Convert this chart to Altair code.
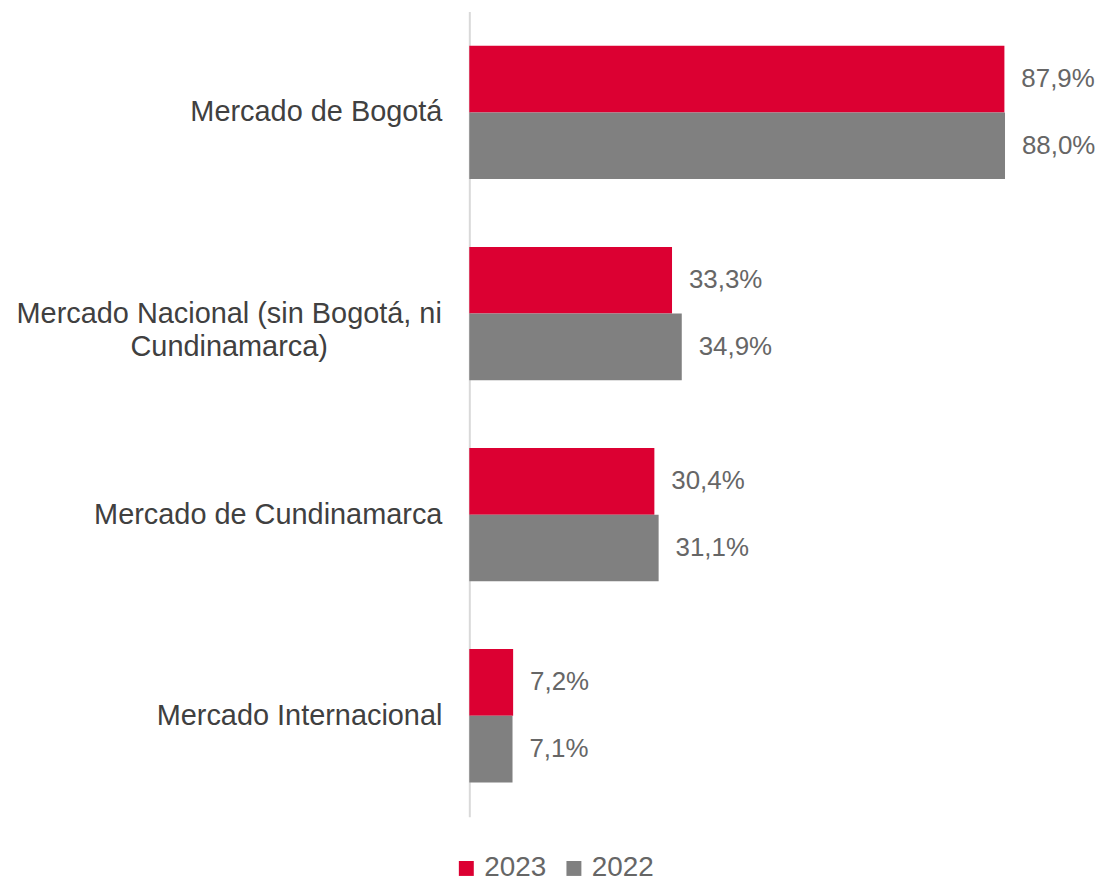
import altair as alt
import pandas as pd

categories = ["Mercado de Bogotá",
              "Mercado Nacional (sin Bogotá, ni\nCundinamarca)",
              "Mercado de Cundinamarca",
              "Mercado Internacional"]
years = ["2023", "2022"]
v2023 = [87.9, 33.3, 30.4, 7.2]
v2022 = [88.0, 34.9, 31.1, 7.1]

rows = []
for c, a, b in zip(categories, v2023, v2022):
    rows.append({"cat": c, "year": "2023", "value": a})
    rows.append({"cat": c, "year": "2022", "value": b})
df = pd.DataFrame(rows)
df["label"] = df["value"].map(lambda v: f"{v:.1f}".replace(".", ",") + "%")

cat_df = pd.DataFrame({"cat": categories})
cat_df["multi"] = cat_df["cat"].str.contains("\n")

FONT = "Liberation Sans"

yscale = alt.Scale(domain=categories, paddingInner=0.337, paddingOuter=0.17)
yenc = alt.Y("cat:N", sort=categories, scale=yscale,
             axis=alt.Axis(labels=False, ticks=False, title=None, grid=False,
                           domainColor="#d9d9d9", domainWidth=2))
yoff = alt.YOffset("year:N", sort=years, scale=alt.Scale(domain=years, paddingInner=0, paddingOuter=0))
xenc = alt.X("value:Q", scale=alt.Scale(domain=[0, 100]), axis=None)

bars = alt.Chart(df).mark_bar().encode(
    y=yenc, yOffset=yoff, x=xenc,
    color=alt.Color("year:N",
                    scale=alt.Scale(domain=years, range=["#DC0032", "#808080"]),
                    legend=alt.Legend(orient="none", legendX=-17, legendY=846,
                                      direction="horizontal", title=None,
                                      symbolType="square", symbolSize=225,
                                      symbolStrokeWidth=0, labelFontSize=28,
                                      labelFont=FONT, labelColor="#666666",
                                      columnPadding=13, labelOffset=4, padding=0))
)

labels = alt.Chart(df).mark_text(align="left", baseline="middle", dx=17,
                                 fontSize=26, font=FONT, color="#666666").encode(
    y=yenc, yOffset=yoff, x=xenc, text="label:N")

cat_single = alt.Chart(cat_df).transform_filter("!datum.multi").mark_text(
    align="right", baseline="middle", fontSize=29, font=FONT, color="#404040",
    lineBreak="\n").encode(y=alt.Y("cat:N", sort=categories, scale=yscale),
                          x=alt.value(-27), text="cat:N")
cat_multi = alt.Chart(cat_df).transform_filter("datum.multi").mark_text(
    align="center", baseline="middle", fontSize=29, font=FONT, color="#404040",
    lineBreak="\n", lineHeight=34).encode(y=alt.Y("cat:N", sort=categories, scale=yscale),
                                         x=alt.value(-241), text="cat:N")

chart = alt.layer(bars, labels, cat_single, cat_multi).properties(
    width=611, height=808,
    padding={"left": 8, "top": 2, "right": 0, "bottom": 0}
).configure(background="white", view=alt.ViewConfig(strokeWidth=0, stroke="transparent"))

chart.save("out.html", embed_options={"renderer": "svg", "actions": False})
